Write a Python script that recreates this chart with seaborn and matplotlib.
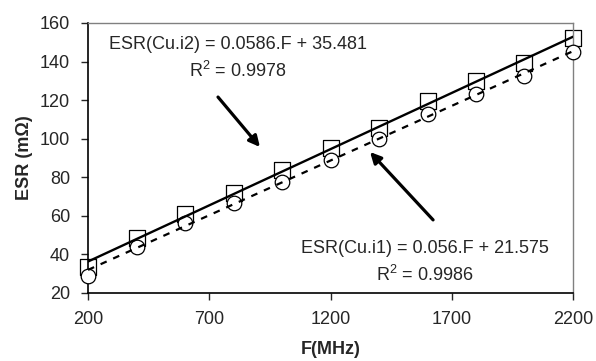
import matplotlib
matplotlib.use("Agg")
import matplotlib.pyplot as plt
import seaborn as sns
import pandas as pd

# Data
freq_mhz = [200, 400, 600, 800, 1000, 1200, 1400, 1600, 1800, 2000, 2200]
esr_cu_i2 = [33.5, 48.4, 60.8, 72.0, 83.8, 95.0, 105.7, 119.7, 130.1, 139.4, 152.1]
esr_cu_i1 = [29.0, 44.0, 56.2, 66.8, 77.7, 89.0, 99.7, 112.8, 123.0, 132.5, 144.8]
x_ticks = [200, 700, 1200, 1700, 2200]
y_ticks = [20, 40, 60, 80, 100, 120, 140, 160]

df = pd.DataFrame({"F": freq_mhz, "i2": esr_cu_i2, "i1": esr_cu_i1})

sns.set_style("ticks")
plt.rcParams["font.family"] = ["Liberation Sans", "DejaVu Sans"]
plt.rcParams["mathtext.fontset"] = "custom"
plt.rcParams["mathtext.rm"] = "Liberation Sans"

fig = plt.figure(figsize=(5.96, 3.61), dpi=100)
ax = fig.add_axes([0.1477, 0.1884, 0.8137, 0.7479])

# markers
sns.scatterplot(data=df, x="F", y="i2", marker="s", s=120, facecolor="white",
                edgecolor="black", linewidth=0.9, ax=ax, zorder=2, clip_on=False)
sns.scatterplot(data=df, x="F", y="i1", marker="o", s=110, facecolor="white",
                edgecolor="black", linewidth=0.9, ax=ax, zorder=3, clip_on=False)
# trend lines
sns.regplot(data=df, x="F", y="i2", scatter=False, ci=None, ax=ax,
            line_kws=dict(color="black", lw=1.7, zorder=4))
sns.regplot(data=df, x="F", y="i1", scatter=False, ci=None, ax=ax,
            line_kws=dict(color="black", lw=1.6, ls=(0, (3, 3.2)), zorder=4))

ax.set_xlim(200, 2200)
ax.set_ylim(20, 160)
ax.set_xticks(x_ticks)
ax.set_yticks(y_ticks)
ax.tick_params(axis="both", labelsize=13, length=5, width=1, direction="out", pad=8)
ax.set_xlabel("F(MHz)", fontsize=13, fontweight="bold", labelpad=9)
ax.set_ylabel("ESR (m\u03a9)", fontsize=13, fontweight="bold", labelpad=5)

for side in ["top", "right"]:
    ax.spines[side].set_color("#808080")
    ax.spines[side].set_linewidth(1.0)
for side in ["left", "bottom"]:
    ax.spines[side].set_color("black")
    ax.spines[side].set_linewidth(1.2)

# annotations
ax.text(819, 148.6, "ESR(Cu.i2) = 0.0586.F + 35.481", ha="center", va="center", fontsize=13)
ax.text(819, 135.1, "R$^2$ = 0.9978", ha="center", va="center", fontsize=13)
ax.text(1590, 43.3, "ESR(Cu.i1) = 0.056.F + 21.575", ha="center", va="center", fontsize=13)
ax.text(1590, 29.3, "R$^2$ = 0.9986", ha="center", va="center", fontsize=13)

ax.annotate("", xy=(909, 95.7), xytext=(736, 121.6),
            arrowprops=dict(arrowstyle="-|>", lw=2.3, color="black", mutation_scale=16,
                            shrinkA=0, shrinkB=0))
ax.annotate("", xy=(1363, 93.1), xytext=(1623, 57.9),
            arrowprops=dict(arrowstyle="-|>", lw=2.3, color="black", mutation_scale=16,
                            shrinkA=0, shrinkB=0))

fig.savefig("out.png", dpi=100)
